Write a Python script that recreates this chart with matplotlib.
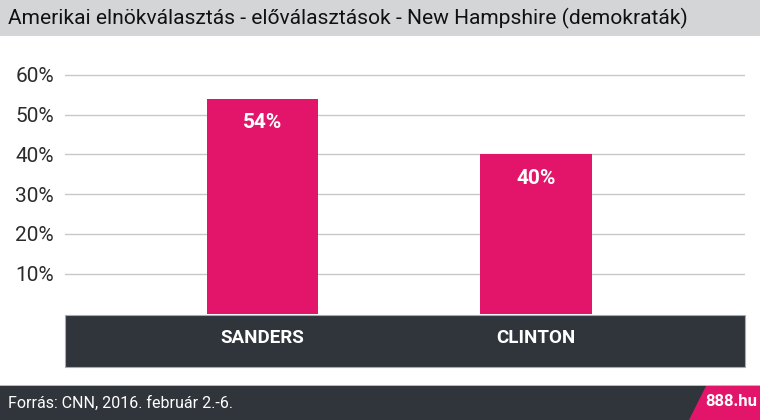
import matplotlib
matplotlib.use('Agg')
import matplotlib.pyplot as plt
from matplotlib.patches import Rectangle, Polygon

# Data
candidates = ['SANDERS', 'CLINTON']
votes = [54, 40]
yticks = [10, 20, 30, 40, 50, 60]
title = 'Amerikai elnökválasztás - előválasztások - New Hampshire (demokraták)'
source = 'Forrás: CNN, 2016. február 2.-6.'
brand = '888.hu'

PINK = '#e2156a'
DARK = '#30343b'
GREY_BAND = '#d4d5d7'

W, H = 760, 420
fig = plt.figure(figsize=(W / 100, H / 100), dpi=100)

def fx(px):
    return px / W

def fy(py):
    return 1 - py / H

# title band
fig.add_artist(Rectangle((0, fy(36)), 1, 36 / H, transform=fig.transFigure,
                         facecolor=GREY_BAND, edgecolor='none', zorder=-2))
fig.text(fx(8), fy(18), title, family='Roboto', fontsize=15.1, color='#111111',
         va='center', ha='left')

# main axes: 0% at y=313.5, 10% step = 39.8 px
y0, step = 313.5, 3.98
top = 60
ax = fig.add_axes([fx(65), fy(y0), fx(680), (y0 - top) / H])
ax.set_ylim(0, (y0 - top) / step)
ax.set_xlim(-0.722, 1.764)

x = range(len(candidates))
bars = ax.bar(x, votes, width=0.406, color=PINK, zorder=3)
for b, v in zip(bars, votes):
    ax.text(b.get_x() + b.get_width() / 2, v - 6.0, f'{v}%', ha='center', va='center',
            color='white', fontsize=15, fontweight='bold', family='Roboto', zorder=4)

ax.set_yticks(yticks)
ax.set_yticklabels([f'{t}%' for t in yticks], family='Roboto', fontsize=15, color='#2b2b2b')
ax.yaxis.grid(True, color='#c8c8c8', linewidth=1)
ax.set_axisbelow(True)
ax.tick_params(axis='y', length=0, pad=8)
ax.set_xticks([])
for s in ax.spines.values():
    s.set_visible(False)

# dark category box
fig.add_artist(Rectangle((fx(65), fy(367)), fx(680), 52 / H, transform=fig.transFigure,
                         facecolor=DARK, edgecolor='#a9abb0', linewidth=0.8, zorder=-1))
for xi, name in zip(x, candidates):
    xf = fig.transFigure.inverted().transform(ax.transData.transform((xi, 0)))[0]
    fig.text(xf, fy(338), name, ha='center', va='center', color='white',
             fontsize=13.5, fontweight='bold', family='Roboto')

# footer
fig.add_artist(Rectangle((0, 0), 1, 34 / H, transform=fig.transFigure,
                         facecolor=DARK, edgecolor='none', zorder=-1))
fig.add_artist(Rectangle((0, fy(386)), 1, 1.2 / H, transform=fig.transFigure,
                         facecolor='#b8babe', edgecolor='none', zorder=-1))
fig.add_artist(Polygon([(fx(706), fy(386)), (1, fy(386)), (1, 0), (fx(689), 0)],
                       closed=True, transform=fig.transFigure, facecolor=PINK,
                       edgecolor='none', zorder=0))
fig.text(fx(8), fy(403), source, family='Roboto', fontsize=11.5, color='white',
         va='center', ha='left')
fig.text(fx(731), fy(402), brand, family='Roboto', fontsize=12, fontweight='bold',
         color='white', va='center', ha='center')

fig.savefig('out.png', dpi=100)
